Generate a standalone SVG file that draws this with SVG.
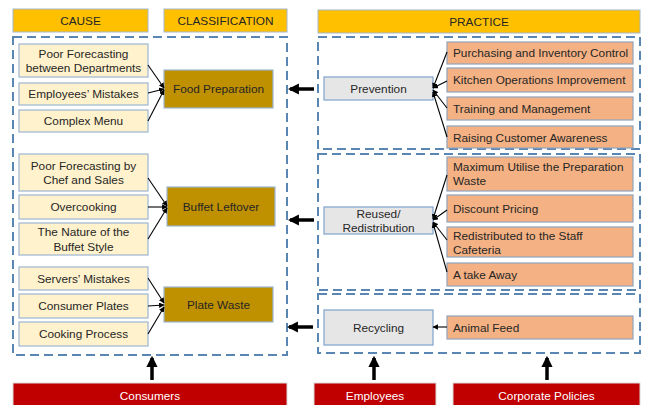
<svg xmlns="http://www.w3.org/2000/svg" width="646" height="405" viewBox="0 0 646 405">
  <defs>
    <marker id="tip" viewBox="0 0 10 10" refX="9" refY="5" markerWidth="5" markerHeight="5" orient="auto">
      <path d="M0,0 L10,5 L0,10 z" fill="#000"/>
    </marker>
    <marker id="bold" viewBox="0 0 10 10" refX="8" refY="5" markerWidth="3.2" markerHeight="3.2" orient="auto">
      <path d="M0,0 L10,5 L0,10 z" fill="#000"/>
    </marker>
  </defs>
  <style>
    text { font-family: "Liberation Sans", Arial, sans-serif; font-size: 11.8px; fill: #262626; dominant-baseline: central; }
    .c { text-anchor: middle; }
    .l { text-anchor: start; }
    .w { fill: #FFFFFF; }
    .hdr { fill: #FFC000; stroke: #A6B7CC; stroke-width: 1; }
    .cause { fill: #FFF2CC; stroke: #9DB6D3; stroke-width: 1.2; }
    .cls { fill: #BF9000; stroke: #9DB6D3; stroke-width: 1.2; }
    .prac { fill: #F4B183; stroke: #8FA3BC; stroke-width: 1.2; }
    .grey { fill: #E7E6E6; stroke: #7EA3CC; stroke-width: 1.2; }
    .red { fill: #C00000; stroke: #D9D9D9; stroke-width: 1; }
    .frame { fill: none; stroke: #5A86B3; stroke-width: 2; stroke-dasharray: 9 5; }
    .ln { fill: none; stroke: #000; stroke-width: 1.1; marker-end: url(#tip); }
    .thick { fill: none; stroke: #000; stroke-width: 3.5; marker-end: url(#bold); }
  </style>

  <rect width="646" height="405" fill="#FFFFFF"/>

  <!-- column headers -->
  <g id="hdr-cause"><rect class="hdr" x="13" y="9" width="135" height="23"/><text class="c" x="80.5" y="21">CAUSE</text></g>
  <g id="hdr-classification"><rect class="hdr" x="164" y="9" width="123" height="23"/><text class="c" x="225.5" y="21">CLASSIFICATION</text></g>
  <g id="hdr-practice"><rect class="hdr" x="318" y="10" width="322" height="23"/><text class="c" x="479" y="22">PRACTICE</text></g>

  <!-- dashed group frames -->
  <g id="frames">
    <rect class="frame" x="13" y="37" width="274" height="318"/>
    <rect class="frame" x="318" y="37" width="322" height="112"/>
    <rect class="frame" x="318" y="154" width="322" height="136"/>
    <rect class="frame" x="318" y="294" width="322" height="59"/>
  </g>

  <!-- causes -->
  <g id="cause-forecast-dept"><rect class="cause" x="19" y="44" width="129" height="33"/><text class="c" x="83.5" y="54">Poor Forecasting</text><text class="c" x="83.5" y="68">between Departments</text></g>
  <g id="cause-employees"><rect class="cause" x="19" y="83" width="129" height="22"/><text class="c" x="83.5" y="94">Employees’ Mistakes</text></g>
  <g id="cause-menu"><rect class="cause" x="19" y="110" width="129" height="22"/><text class="c" x="83.5" y="121">Complex Menu</text></g>

  <g id="cause-forecast-chef"><rect class="cause" x="19" y="154" width="129" height="37"/><text class="c" x="83.5" y="166">Poor Forecasting by</text><text class="c" x="83.5" y="180">Chef and Sales</text></g>
  <g id="cause-overcooking"><rect class="cause" x="19" y="195" width="129" height="24"/><text class="c" x="83.5" y="207">Overcooking</text></g>
  <g id="cause-buffet-style"><rect class="cause" x="19" y="223" width="129" height="32"/><text class="c" x="83.5" y="232">The Nature of the</text><text class="c" x="83.5" y="247">Buffet Style</text></g>

  <g id="cause-servers"><rect class="cause" x="19" y="267" width="129" height="23"/><text class="c" x="83.5" y="278.5">Servers’ Mistakes</text></g>
  <g id="cause-plates"><rect class="cause" x="19" y="294" width="129" height="24"/><text class="c" x="83.5" y="306">Consumer Plates</text></g>
  <g id="cause-cooking"><rect class="cause" x="19" y="322" width="129" height="24"/><text class="c" x="83.5" y="334">Cooking Process</text></g>

  <!-- classifications -->
  <g id="cls-food-prep"><rect class="cls" x="164" y="70" width="109" height="38"/><text class="c" x="218.5" y="89">Food Preparation</text></g>
  <g id="cls-buffet"><rect class="cls" x="167" y="187" width="108" height="39"/><text class="c" x="221" y="207">Buffet Leftover</text></g>
  <g id="cls-plate"><rect class="cls" x="164" y="287" width="109" height="35"/><text class="c" x="218.5" y="304.5">Plate Waste</text></g>

  <!-- practice groups -->
  <g id="prac-prevention"><rect class="grey" x="324" y="77" width="109" height="23"/><text class="c" x="378.5" y="88.5">Prevention</text></g>
  <g id="prac-reused"><rect class="grey" x="324" y="207" width="109" height="27"/><text class="c" x="378.5" y="214">Reused/</text><text class="c" x="378.5" y="228">Redistribution</text></g>
  <g id="prac-recycling"><rect class="grey" x="324" y="310" width="109" height="35"/><text class="c" x="378.5" y="327.5">Recycling</text></g>

  <!-- practices -->
  <g id="p-purchasing"><rect class="prac" x="447" y="42" width="186" height="22"/><text class="l" x="453" y="53">Purchasing and Inventory Control</text></g>
  <g id="p-kitchen"><rect class="prac" x="447" y="68" width="186" height="24"/><text class="l" x="453" y="80">Kitchen Operations Improvement</text></g>
  <g id="p-training"><rect class="prac" x="447" y="97" width="186" height="23"/><text class="l" x="453" y="108.5">Training and Management</text></g>
  <g id="p-awareness"><rect class="prac" x="447" y="126" width="186" height="22"/><text class="l" x="453" y="137.5">Raising Customer Awareness</text></g>

  <g id="p-utilise"><rect class="prac" x="447" y="157" width="186" height="34"/><text class="l" x="453" y="166.5">Maximum Utilise the Preparation</text><text class="l" x="453" y="181">Waste</text></g>
  <g id="p-discount"><rect class="prac" x="447" y="195" width="186" height="27"/><text class="l" x="453" y="209">Discount Pricing</text></g>
  <g id="p-staff"><rect class="prac" x="447" y="227" width="186" height="30"/><text class="l" x="453" y="235.5">Redistributed to the Staff</text><text class="l" x="453" y="249.5">Cafeteria</text></g>
  <g id="p-takeaway"><rect class="prac" x="447" y="263" width="186" height="23"/><text class="l" x="453" y="274.5">A take Away</text></g>

  <g id="p-animal"><rect class="prac" x="447" y="316" width="186" height="23"/><text class="l" x="453" y="327.5">Animal Feed</text></g>

  <!-- stakeholders -->
  <g id="consumers"><rect class="red" x="13" y="383" width="274" height="30"/><text class="c w" x="150" y="396">Consumers</text></g>
  <g id="employees"><rect class="red" x="314" y="383" width="122" height="30"/><text class="c w" x="375" y="396">Employees</text></g>
  <g id="policies"><rect class="red" x="453" y="383" width="187" height="30"/><text class="c w" x="546.5" y="396">Corporate Policies</text></g>

  <!-- connectors -->
  <g id="connectors">
    <line class="ln" x1="148" y1="65" x2="164" y2="88"/>
    <line class="ln" x1="148" y1="93" x2="164" y2="89"/>
    <line class="ln" x1="148" y1="121" x2="164" y2="90"/>

    <line class="ln" x1="148" y1="178" x2="167" y2="206"/>
    <line class="ln" x1="148" y1="207" x2="167" y2="207"/>
    <line class="ln" x1="148" y1="239" x2="167" y2="208"/>

    <line class="ln" x1="148" y1="278" x2="164" y2="303"/>
    <line class="ln" x1="148" y1="306" x2="164" y2="305"/>
    <line class="ln" x1="148" y1="334" x2="164" y2="307"/>

    <line class="ln" x1="447" y1="52" x2="433" y2="88"/>
    <line class="ln" x1="447" y1="81" x2="433" y2="88"/>
    <line class="ln" x1="447" y1="108" x2="433" y2="90"/>
    <line class="ln" x1="447" y1="137" x2="433" y2="92"/>

    <line class="ln" x1="447" y1="175" x2="433" y2="219"/>
    <line class="ln" x1="447" y1="210" x2="433" y2="220"/>
    <line class="ln" x1="447" y1="240" x2="433" y2="222"/>
    <line class="ln" x1="447" y1="272" x2="433" y2="223"/>

    <line class="ln" x1="447" y1="327" x2="433" y2="327"/>

    <line class="thick" x1="314" y1="89" x2="290" y2="89"/>
    <line class="thick" x1="314" y1="220" x2="290" y2="220"/>
    <line class="thick" x1="313" y1="327" x2="289" y2="327"/>

    <line class="thick" x1="152" y1="380" x2="152" y2="358"/>
    <line class="thick" x1="374" y1="380" x2="374" y2="358"/>
    <line class="thick" x1="547" y1="380" x2="547" y2="358"/>
  </g>
</svg>
